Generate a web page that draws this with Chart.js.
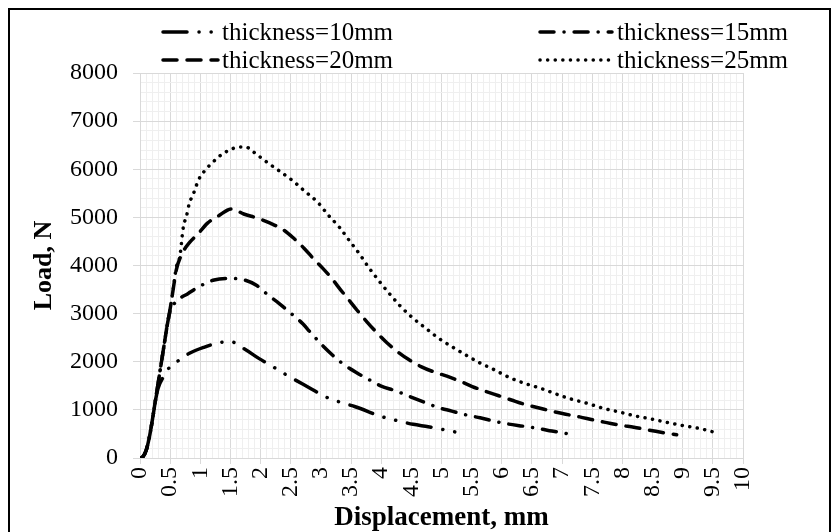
<!DOCTYPE html>
<html>
<head>
<meta charset="utf-8">
<script src="https://cdn.jsdelivr.net/npm/chart.js@4.4.1/dist/chart.umd.min.js"></script>
<style>
  html, body { margin: 0; padding: 0; background: #fff; }
  canvas { display: block; }
</style>
</head>
<body>
<canvas id="loadChart" width="839" height="532"></canvas>
<script>
// series names
const seriesLabels = ['thickness=10mm', 'thickness=15mm', 'thickness=20mm', 'thickness=25mm'];

// thickness 10 mm
const disp10 = [0, 0.05, 0.1, 0.15, 0.2, 0.25, 0.3, 0.39, 0.5, 0.61, 0.82, 1.06, 1.33, 1.49, 1.74, 1.97, 2.2, 2.43, 2.85, 3.07, 3.32, 3.57, 4.01, 4.27, 4.53, 4.78, 5.25];
const load10 = [0, 30, 150, 400, 750, 1150, 1450, 1690, 1900, 2000, 2175, 2300, 2400, 2420, 2260, 2070, 1900, 1725, 1430, 1275, 1160, 1065, 860, 775, 700, 650, 535];

// thickness 15 mm
const disp15 = [0, 0.05, 0.1, 0.15, 0.2, 0.25, 0.3, 0.35, 0.4, 0.45, 0.5, 0.6, 0.8, 1.0, 1.23, 1.48, 1.7, 1.93, 2.14, 2.31, 2.5, 2.7, 2.82, 3.01, 3.2, 3.35, 3.58, 3.81, 3.99, 4.25, 4.48, 4.69, 4.93, 5.17, 5.39, 5.64, 5.89, 6.11, 6.36, 6.62, 6.83, 7.09];
const load15 = [0, 30, 150, 400, 750, 1150, 1550, 1950, 2350, 2750, 3050, 3250, 3420, 3575, 3700, 3730, 3710, 3590, 3370, 3210, 3010, 2790, 2620, 2360, 2130, 1970, 1780, 1620, 1500, 1390, 1275, 1170, 1055, 975, 900, 835, 760, 705, 660, 610, 560, 505];

// thickness 20 mm
const disp20 = [0, 0.05, 0.1, 0.15, 0.2, 0.25, 0.3, 0.35, 0.4, 0.45, 0.5, 0.55, 0.6, 0.7, 0.82, 0.96, 1.12, 1.3, 1.52, 1.72, 1.96, 2.16, 2.38, 2.55, 2.72, 2.87, 3.04, 3.18, 3.33, 3.48, 3.6, 3.77, 3.93, 4.09, 4.27, 4.45, 4.66, 4.86, 5.09, 5.3, 5.51, 5.72, 5.95, 6.16, 6.38, 6.62, 6.84, 7.06, 7.29, 7.52, 7.74, 7.99, 8.19, 8.43, 8.66, 8.9];
const load20 = [0, 30, 150, 400, 750, 1150, 1550, 1950, 2350, 2750, 3100, 3500, 3900, 4250, 4475, 4655, 4880, 5030, 5175, 5070, 4980, 4880, 4740, 4565, 4360, 4150, 3930, 3730, 3490, 3260, 3070, 2820, 2600, 2400, 2210, 2050, 1900, 1795, 1700, 1600, 1485, 1390, 1293, 1205, 1115, 1040, 970, 910, 855, 790, 735, 675, 640, 580, 530, 485];

// thickness 25 mm
const disp25 = [0, 0.05, 0.1, 0.15, 0.2, 0.25, 0.3, 0.35, 0.4, 0.45, 0.5, 0.55, 0.6, 0.66, 0.72, 0.77, 0.82, 0.88, 0.94, 1.0, 1.09, 1.16, 1.28, 1.38, 1.49, 1.63, 1.76, 1.87, 2.09, 2.31, 2.53, 2.74, 2.95, 3.12, 3.31, 3.47, 3.64, 3.79, 3.96, 4.13, 4.31, 4.51, 4.72, 4.94, 5.17, 5.39, 5.63, 5.88, 6.13, 6.38, 6.64, 6.9, 7.15, 7.42, 7.69, 7.95, 8.21, 8.48, 8.76, 9.02, 9.29, 9.56];
const load25 = [0, 30, 150, 400, 750, 1150, 1550, 1950, 2350, 2750, 3100, 3500, 3950, 4185, 4810, 5020, 5300, 5470, 5680, 5850, 5990, 6090, 6230, 6330, 6400, 6460, 6460, 6370, 6160, 5965, 5765, 5535, 5310, 5050, 4790, 4520, 4240, 3965, 3685, 3425, 3165, 2925, 2715, 2500, 2315, 2150, 1980, 1830, 1670, 1550, 1450, 1330, 1225, 1135, 1030, 955, 875, 810, 735, 670, 610, 525];

// axes
const xMin = 0, xMax = 10, xMajor = 0.5, xMinor = 0.1;
const yMin = 0, yMax = 8000, yMajor = 1000, yMinor = 200;

const dashStyles = [
    [24, 12, 0.1, 12, 0.1, 12],
    [14, 10, 0.1, 10],
    [14, 10],
    [0.1, 7.5]
];

function toPoints(xs, ys) {
    return xs.map((x, i) => ({ x: x, y: ys[i] }));
}

function isMajor(value, step) {
    const r = value / step;
    return Math.abs(r - Math.round(r)) < 1e-6;
}

const serif = '"Liberation Serif", "Times New Roman", serif';

const frameAndLegend = {
    id: 'frameAndLegend',
    afterDraw(chart) {
        const ctx = chart.ctx;
        ctx.save();
        ctx.strokeStyle = '#000';
        ctx.lineWidth = 2;
        ctx.strokeRect(9, 9, 821, 560);

        const lineStart = [163, 540];
        const lineEnd = [218, 612];
        const textX = [222, 617];
        const rowY = [32, 60];
        chart.data.datasets.forEach((ds, i) => {
            const col = i % 2;
            const row = Math.floor(i / 2);
            ctx.strokeStyle = '#000';
            ctx.lineWidth = ds.borderWidth;
            ctx.lineCap = 'round';
            ctx.setLineDash(ds.borderDash);
            ctx.beginPath();
            ctx.moveTo(lineStart[col], rowY[row]);
            ctx.lineTo(lineEnd[col], rowY[row]);
            ctx.stroke();
            ctx.setLineDash([]);
            ctx.fillStyle = '#000';
            ctx.font = '25px ' + serif;
            ctx.textBaseline = 'middle';
            ctx.textAlign = 'left';
            ctx.fillText(ds.label, textX[col], rowY[row] + 1);
        });
        ctx.restore();
    }
};

const seriesData = [
    toPoints(disp10, load10),
    toPoints(disp15, load15),
    toPoints(disp20, load20),
    toPoints(disp25, load25)
];

const ctx = document.getElementById('loadChart').getContext('2d');
new Chart(ctx, {
    type: 'scatter',
    data: {
        datasets: seriesData.map((pts, i) => ({
            label: seriesLabels[i],
            data: pts,
            showLine: true,
            pointRadius: 0,
            borderColor: '#000',
            backgroundColor: '#000',
            borderWidth: 3.5,
            borderCapStyle: 'round',
            borderDash: dashStyles[i],
            cubicInterpolationMode: 'monotone',
            fill: false
        }))
    },
    options: {
        responsive: false,
        animation: false,
        devicePixelRatio: 1,
        layout: { padding: { left: 8, top: 73, right: 96, bottom: 0 } },
        plugins: {
            legend: { display: false },
            tooltip: { enabled: false }
        },
        scales: {
            x: {
                type: 'linear',
                min: xMin,
                max: xMax,
                afterFit(scale) { scale.height = 74; },
                border: { color: '#d9d9d9', width: 1 },
                grid: {
                    color: c => isMajor(c.tick.value, xMajor) ? '#d9d9d9' : '#efefef',
                    tickColor: c => isMajor(c.tick.value, xMajor) ? '#d9d9d9' : 'rgba(0,0,0,0)',
                    tickLength: 6
                },
                ticks: {
                    stepSize: xMinor,
                    autoSkip: false,
                    minRotation: 90,
                    maxRotation: 90,
                    padding: 3,
                    color: '#000',
                    font: { family: serif, size: 24 },
                    callback: v => isMajor(v, xMajor) ? String(Math.round(v * 10) / 10) : ''
                },
                title: {
                    display: true,
                    text: 'Displacement, mm',
                    color: '#000',
                    font: { family: serif, size: 27, weight: 'bold', lineHeight: 1 },
                    padding: { top: 0, bottom: 0 }
                }
            },
            y: {
                type: 'linear',
                min: yMin,
                max: yMax,
                afterFit(scale) { scale.width = 132; },
                border: { color: '#d9d9d9', width: 1 },
                grid: {
                    color: c => isMajor(c.tick.value, yMajor) ? '#d9d9d9' : '#efefef',
                    tickColor: c => isMajor(c.tick.value, yMajor) ? '#d9d9d9' : 'rgba(0,0,0,0)',
                    tickLength: 7
                },
                ticks: {
                    stepSize: yMinor,
                    autoSkip: false,
                    padding: 15,
                    color: '#000',
                    font: { family: serif, size: 24 },
                    callback: v => isMajor(v, yMajor) ? String(v) : ''
                },
                title: {
                    display: true,
                    text: 'Load, N',
                    color: '#000',
                    font: { family: serif, size: 26, weight: 'bold', lineHeight: 1 },
                    padding: { top: 23, bottom: 0 }
                }
            }
        }
    },
    plugins: [frameAndLegend]
});
</script>
</body>
</html>
